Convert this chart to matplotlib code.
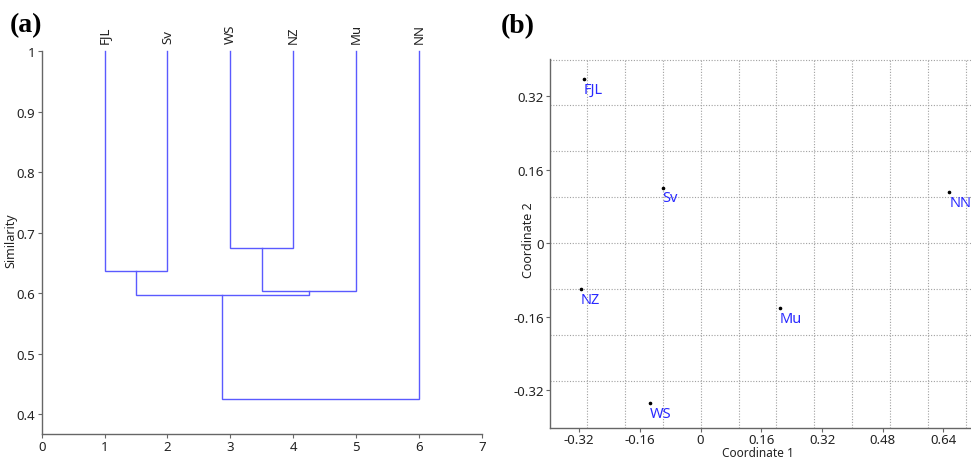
import matplotlib
matplotlib.use("Agg")
import matplotlib.pyplot as plt
import numpy as np

# ---------------- data ----------------
leaves = ["FJL", "Sv", "WS", "NZ", "Mu", "NN"]
leaf_pos = [1, 2, 3, 4, 5, 6]
# merges: (child_a, child_b, similarity); nodes 0-5 are leaves, new nodes numbered from 6
merge_a = [0, 2, 7, 6, 9]
merge_b = [1, 3, 4, 8, 5]
merge_sim = [0.636, 0.675, 0.604, 0.597, 0.425]

sim_ticks = [0.4, 0.5, 0.6, 0.7, 0.8, 0.9, 1]
x_ticks_a = [0, 1, 2, 3, 4, 5, 6, 7]

mds_labels = ["FJL", "Sv", "WS", "NZ", "Mu", "NN"]
coord1 = [-0.307, -0.100, -0.134, -0.316, 0.208, 0.655]
coord2 = [0.357, 0.121, -0.347, -0.100, -0.141, 0.112]
mds_ticks = [-0.32, -0.16, 0, 0.16, 0.32, 0.48, 0.64]
mds_grid_x = [-0.3, -0.2, -0.1, 0.0, 0.1, 0.2, 0.3, 0.4, 0.5, 0.6, 0.7]
mds_grid_y = [-0.3, -0.2, -0.1, 0.0, 0.1, 0.2, 0.3, 0.4]

# ---------------- style ----------------
plt.rcParams['font.family'] = ['Noto Sans', 'DejaVu Sans']
W, H = 971, 460
fig = plt.figure(figsize=(W / 100, H / 100), dpi=100)

spine_col = "#666666"
txt_col = "#222222"
blue = "#5a5aff"
fs = 9.5


def fx(px):
    return px / W


def fy(py):
    return 1 - py / H


def style_axes(ax):
    for s in ["top", "right"]:
        ax.spines[s].set_visible(False)
    for s in ["left", "bottom"]:
        ax.spines[s].set_color(spine_col)
        ax.spines[s].set_linewidth(1.0)
    ax.tick_params(direction="out", length=3, width=0.8, color=spine_col,
                   labelsize=fs, labelcolor=txt_col, pad=1.5)


# ---------------- panel (a): dendrogram ----------------
axa = fig.add_axes([fx(41.7), fy(434.7), fx(481.7) - fx(41.7), fy(52.3) - fy(434.7)])
style_axes(axa)
axa.set_xlim(0, 7)
axa.set_ylim(0.3675, 1.0)
axa.set_xticks(x_ticks_a)
axa.set_yticks(sim_ticks)
axa.set_yticklabels([("%g" % t) for t in sim_ticks])

node_x = list(leaf_pos)
node_h = [1.0] * len(leaves)
for a, b, h in zip(merge_a, merge_b, merge_sim):
    xa, xb = node_x[a], node_x[b]
    axa.plot([xa, xa, xb, xb], [node_h[a], h, h, node_h[b]],
             color=blue, lw=1.0, solid_joinstyle="miter", clip_on=False)
    node_x.append((xa + xb) / 2)
    node_h.append(h)

for name, x in zip(leaves, leaf_pos):
    axa.annotate(name, (x, 1.0), xytext=(0, 6), textcoords="offset points",
                 rotation=90, ha="center", va="bottom", fontsize=fs,
                 color=txt_col, annotation_clip=False)

fig.text(fx(11), fy(241), "Similarity", rotation=90, ha="center", va="center",
         fontsize=9, color=txt_col)

# ---------------- panel (b): MDS ----------------
axb = fig.add_axes([fx(550.3), fy(429), 1 - fx(550.3), fy(60.3) - fy(429)])
style_axes(axb)
axb.tick_params(axis="x", pad=0.5)
axb.set_xlim(-0.396, 0.7125)
axb.set_ylim(-0.402, 0.4005)
axb.set_xticks(mds_ticks)
axb.set_yticks([t for t in mds_ticks if t <= 0.32])
axb.set_xticklabels([("%g" % t) for t in mds_ticks])
axb.set_yticklabels([("%g" % t) for t in mds_ticks if t <= 0.32])
for g in mds_grid_x:
    axb.axvline(g, color="#a0a0a0", lw=0.8, ls=(0, (1, 1.5)), zorder=0)
for g in mds_grid_y:
    axb.axhline(g, color="#a0a0a0", lw=0.8, ls=(0, (1, 1.5)), zorder=0)

axb.plot(coord1, coord2, "o", color="black", markersize=1.6, zorder=3)
for name, x, y in zip(mds_labels, coord1, coord2):
    axb.annotate(name, (x, y), xytext=(0, -2), textcoords="offset points",
                 ha="left", va="top", fontsize=10.5, color="#2a2aff",
                 annotation_clip=False)

fig.text(fx(528), fy(240), "Coordinate 2", rotation=90, ha="center", va="center",
         fontsize=9, color=txt_col)
fig.text(fx(758), fy(460), "Coordinate 1", ha="center", va="bottom",
         fontsize=8.5, color=txt_col)

# ---------------- panel labels ----------------
fig.text(fx(10), fy(26), "(a)", ha="left", va="center", fontsize=20,
         fontweight="bold", family="Liberation Serif")
fig.text(fx(501), fy(26.5), "(b)", ha="left", va="center", fontsize=20,
         fontweight="bold", family="Liberation Serif")

fig.savefig("out.png", dpi=100)
